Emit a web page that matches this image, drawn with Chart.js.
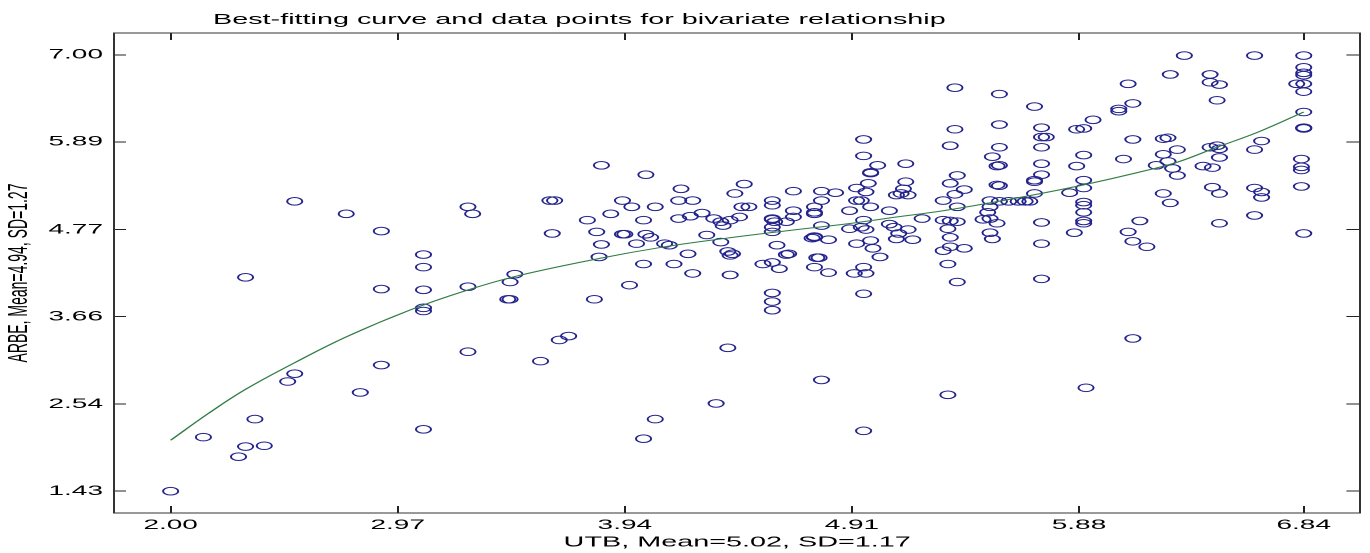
<!DOCTYPE html>
<html><head><meta charset="utf-8">
<script src="https://cdn.jsdelivr.net/npm/chart.js@4.4.0/dist/chart.umd.min.js"></script>
<style>
html,body{margin:0;padding:0;background:#fff;overflow:hidden;}
#wrap{position:absolute;left:0;top:0;width:685px;height:553px;transform:scaleX(2);transform-origin:0 0;}
</style></head><body>
<div id="wrap"><canvas id="c"></canvas></div>
<script>
// ---- data ----
const utbValues = [
2.53,2.75,2.90,2.32,2.90,2.90,2.53,2.50,2.81,2.36,2.14,2.32,2.40,2.29,2.00,
3.08,3.08,3.08,3.08,3.08,3.08,
3.27,3.29,3.62,3.64,3.63,3.84,4.03,3.78,3.88,3.93,3.97,4.07,4.02,3.82,3.93,3.94,4.03,4.05,3.99,3.84,3.83,4.02,
3.27,3.47,3.45,3.44,3.45,3.96,3.81,3.66,3.70,3.27,3.58,4.07,4.02,
4.96,4.96,5.02,4.99,4.99,4.98,4.93,4.97,4.18,4.45,4.41,4.66,4.78,4.84,4.17,4.23,4.57,4.57,4.44,4.47,4.78,4.75,4.90,4.93,4.95,4.99,5.07,
4.17,4.22,4.27,4.32,4.35,4.36,4.39,4.43,4.57,4.57,4.58,4.63,4.66,4.66,4.75,4.75,4.57,4.57,4.78,4.90,4.95,4.96,4.97,5.09,5.11,
4.11,4.13,4.29,4.35,4.21,4.38,4.40,4.39,4.75,4.75,4.74,4.81,4.59,4.63,4.64,4.77,4.76,4.93,4.99,5.00,5.03,4.96,4.15,4.53,4.57,4.75,
4.23,4.39,4.60,4.81,4.92,4.97,4.96,4.57,4.57,4.57,4.38,4.78,4.33,4.96,
5.35,5.54,5.69,6.09,6.11,6.05,6.05,5.94,5.87,5.90,5.35,5.54,5.72,5.72,5.74,5.33,5.54,5.72,6.11,5.14,5.51,5.54,5.53,5.72,5.90,5.87,6.07,
5.14,5.13,5.12,5.15,5.10,5.36,5.33,5.39,5.35,5.72,5.69,5.69,5.54,5.53,5.90,5.90,5.69,5.84,5.30,5.90,5.90,5.90,5.90,5.90,5.86,
5.50,5.54,5.58,5.62,5.65,5.67,5.50,5.49,5.36,5.21,5.07,5.15,5.17,5.10,5.30,5.33,5.36,5.32,5.47,5.50,5.53,5.50,5.51,5.72,5.72,
5.33,5.33,5.39,5.30,5.32,6.09,6.11,5.36,5.72,6.11,5.91,5.32,
6.33,6.63,6.84,6.84,6.84,6.84,6.81,6.84,6.84,6.27,6.44,6.44,6.48,6.47,6.84,6.84,6.84,6.24,6.26,6.44,6.47,6.48,6.48,6.66,6.63,
6.30,6.24,6.21,6.26,6.28,6.30,6.41,6.45,6.83,6.83,6.83,6.83,6.24,6.27,6.45,6.48,6.63,6.66,6.66,6.63,6.48,6.84,6.14,6.17
];
const arbeValues = [
5.13,4.97,4.75,4.16,4.01,3.04,2.93,2.83,2.69,2.35,2.12,2.00,2.01,1.87,1.43,
4.45,4.29,4.00,3.77,3.73,2.22,
5.06,4.97,5.14,5.14,4.72,5.59,5.47,4.89,4.97,5.14,5.06,5.06,4.89,4.74,4.71,4.71,4.71,4.67,4.59,4.58,4.42,4.33,
4.04,4.20,4.10,3.88,3.88,4.06,3.88,3.36,3.41,3.21,3.09,2.35,2.10,
5.92,5.71,5.59,5.50,5.49,5.36,5.30,5.25,5.29,5.35,5.23,5.26,5.26,5.24,5.14,5.14,5.14,5.08,5.06,5.06,5.14,5.06,5.01,5.14,5.14,5.06,5.01,
4.91,4.94,4.98,4.91,4.87,4.82,4.89,4.93,4.91,4.90,4.87,4.87,4.93,5.01,4.99,4.97,4.80,4.74,4.82,4.78,4.80,4.89,4.77,4.80,4.72,
4.59,4.57,4.70,4.61,4.46,4.49,4.46,4.44,4.67,4.68,4.66,4.64,4.57,4.45,4.46,4.41,4.41,4.59,4.63,4.53,4.42,4.29,4.33,4.33,4.35,4.29,
4.21,4.19,4.27,4.22,4.21,4.21,3.95,3.96,3.85,3.74,3.26,2.85,2.55,2.20,
6.58,6.50,6.34,6.63,6.38,6.31,6.28,6.17,6.05,6.06,6.05,6.11,6.07,5.95,5.95,5.84,5.82,5.82,5.92,5.61,5.70,5.59,5.58,5.61,5.72,5.58,5.67,
5.38,5.29,5.23,5.21,5.21,5.46,5.36,5.28,5.22,5.47,5.40,5.38,5.33,5.34,5.40,5.30,5.23,5.24,5.14,5.12,5.08,4.99,4.88,4.85,4.73,
5.14,5.13,5.13,5.13,5.13,5.13,5.06,4.99,5.06,4.91,4.84,4.77,4.64,4.65,4.89,4.88,4.87,4.78,4.90,4.91,4.85,4.73,4.65,4.86,4.59,
4.67,4.55,4.53,4.50,4.33,4.74,4.62,4.10,4.14,3.38,2.75,2.66,
6.99,6.99,6.99,6.84,6.77,6.74,6.63,6.63,6.53,6.75,6.75,6.65,6.62,6.42,6.27,6.07,6.06,5.93,5.94,5.82,5.84,5.80,5.69,5.90,5.79,
5.79,5.73,5.59,5.64,5.55,5.46,5.58,5.56,5.67,5.57,5.53,5.32,5.23,5.11,5.31,5.23,5.30,5.25,5.18,4.95,4.85,4.72,4.88,4.55
];
// best-fitting curve
const fitX = [2.00, 2.16, 2.32, 2.53, 2.75, 3.02, 3.25, 3.47, 3.83, 4.09, 4.35, 4.62, 4.91, 5.10, 5.30, 5.50, 5.70, 5.90, 6.12, 6.30, 6.46, 6.65, 6.84];
const fitY = [2.08, 2.42, 2.73, 3.07, 3.40, 3.74, 3.98, 4.17, 4.40, 4.54, 4.65, 4.75, 4.85, 4.93, 5.01, 5.11, 5.22, 5.34, 5.49, 5.63, 5.81, 6.02, 6.27];

const xTickValues = [2.00, 2.97, 3.94, 4.91, 5.88, 6.84];
const xTickLabels = ["2.00", "2.97", "3.94", "4.91", "5.88", "6.84"];
const yTickValues = [1.43, 2.54, 3.66, 4.77, 5.89, 7.00];
const yTickLabels = ["1.43", "2.54", "3.66", "4.77", "5.89", "7.00"];
const xLimits = [1.758, 7.082];
const yLimits = [1.1515, 7.2785];

const chartTitle = "Best-fitting curve and data points for bivariate relationship";
const xTitle = "UTB, Mean=5.02, SD=1.17";
const yTitle = "ARBE, Mean=4.94, SD=1.27";

// ---- chart ----
const FONT = "'Liberation Sans', Arial, sans-serif";
const scatterPts = utbValues.map((x, i) => ({x: x, y: arbeValues[i]}));
const fitPts = fitX.map((x, i) => ({x: x, y: fitY[i]}));

const titlePlugin = {
  id: 'leftTitle',
  afterDraw(chart) {
    const ctx = chart.ctx;
    ctx.save();
    ctx.font = "14.4px " + FONT;
    ctx.fillStyle = '#000';
    ctx.textAlign = 'left';
    ctx.textBaseline = 'alphabetic';
    ctx.fillText(chartTitle, 106.5, 24);
    ctx.restore();
  }
};

function tickSetter(values) {
  return function (scale) { scale.ticks = values.map(v => ({value: v})); };
}

const axisCommon = {
  type: 'linear',
  display: true,
  grid: {display: true, drawOnChartArea: false, drawTicks: true, color: '#222', lineWidth: 1},
  border: {display: true, color: '#333', width: 1}
};

new Chart(document.getElementById('c'), {
  type: 'scatter',
  data: {
    datasets: [
      {
        type: 'scatter',
        data: scatterPts,
        pointStyle: 'circle',
        pointRadius: 3.8,
        pointHoverRadius: 3.8,
        pointBorderWidth: 1,
        pointBorderColor: 'rgb(35,35,140)',
        pointBackgroundColor: 'rgba(0,0,0,0)',
        showLine: false,
        order: 2
      },
      {
        type: 'line',
        data: fitPts,
        borderColor: 'rgb(50,125,70)',
        borderWidth: 1,
        pointRadius: 0,
        fill: false,
        tension: 0.4,
        order: 1
      }
    ]
  },
  options: {
    responsive: true,
    maintainAspectRatio: false,
    devicePixelRatio: 2,
    animation: false,
    events: [],
    layout: {padding: {top: 32, right: 3, bottom: 0, left: 0}},
    plugins: {legend: {display: false}, tooltip: {enabled: false}, title: {display: false}},
    scales: {
      x: Object.assign({}, axisCommon, {
        position: 'bottom', min: xLimits[0], max: xLimits[1],
        grid: Object.assign({}, axisCommon.grid, {tickLength: -7}),
        afterBuildTicks: tickSetter(xTickValues),
        afterFit(s) { s.height = 40; },
        ticks: {
          autoSkip: false, maxRotation: 0, padding: 10.5, color: '#000',
          font: {size: 14, family: FONT},
          callback: (v, i) => xTickLabels[i]
        },
        title: {display: true, text: xTitle, color: '#000', font: {size: 14.4, family: FONT}, padding: {top: 0, bottom: 2}}
      }),
      x2: Object.assign({}, axisCommon, {
        position: 'top', min: xLimits[0], max: xLimits[1],
        grid: Object.assign({}, axisCommon.grid, {tickLength: -7}),
        afterBuildTicks: tickSetter(xTickValues),
        afterFit(s) { s.height = 1; },
        ticks: {display: false}
      }),
      y: Object.assign({}, axisCommon, {
        position: 'left', min: yLimits[0], max: yLimits[1],
        grid: Object.assign({}, axisCommon.grid, {tickLength: -6}),
        afterBuildTicks: tickSetter(yTickValues),
        afterFit(s) { s.width = 57; },
        ticks: {
          autoSkip: false, padding: 11.5, color: '#000',
          font: {size: 14, family: FONT},
          callback: (v, i) => yTickLabels[i]
        },
        title: {display: true, text: yTitle, color: '#000', font: {size: 14, family: FONT}, padding: {top: 1, bottom: 0}}
      }),
      y2: Object.assign({}, axisCommon, {
        position: 'right', min: yLimits[0], max: yLimits[1],
        grid: Object.assign({}, axisCommon.grid, {tickLength: -7}),
        afterBuildTicks: tickSetter(yTickValues),
        afterFit(s) { s.width = 1; },
        ticks: {display: false}
      })
    }
  },
  plugins: [titlePlugin]
});
</script>
</body></html>
